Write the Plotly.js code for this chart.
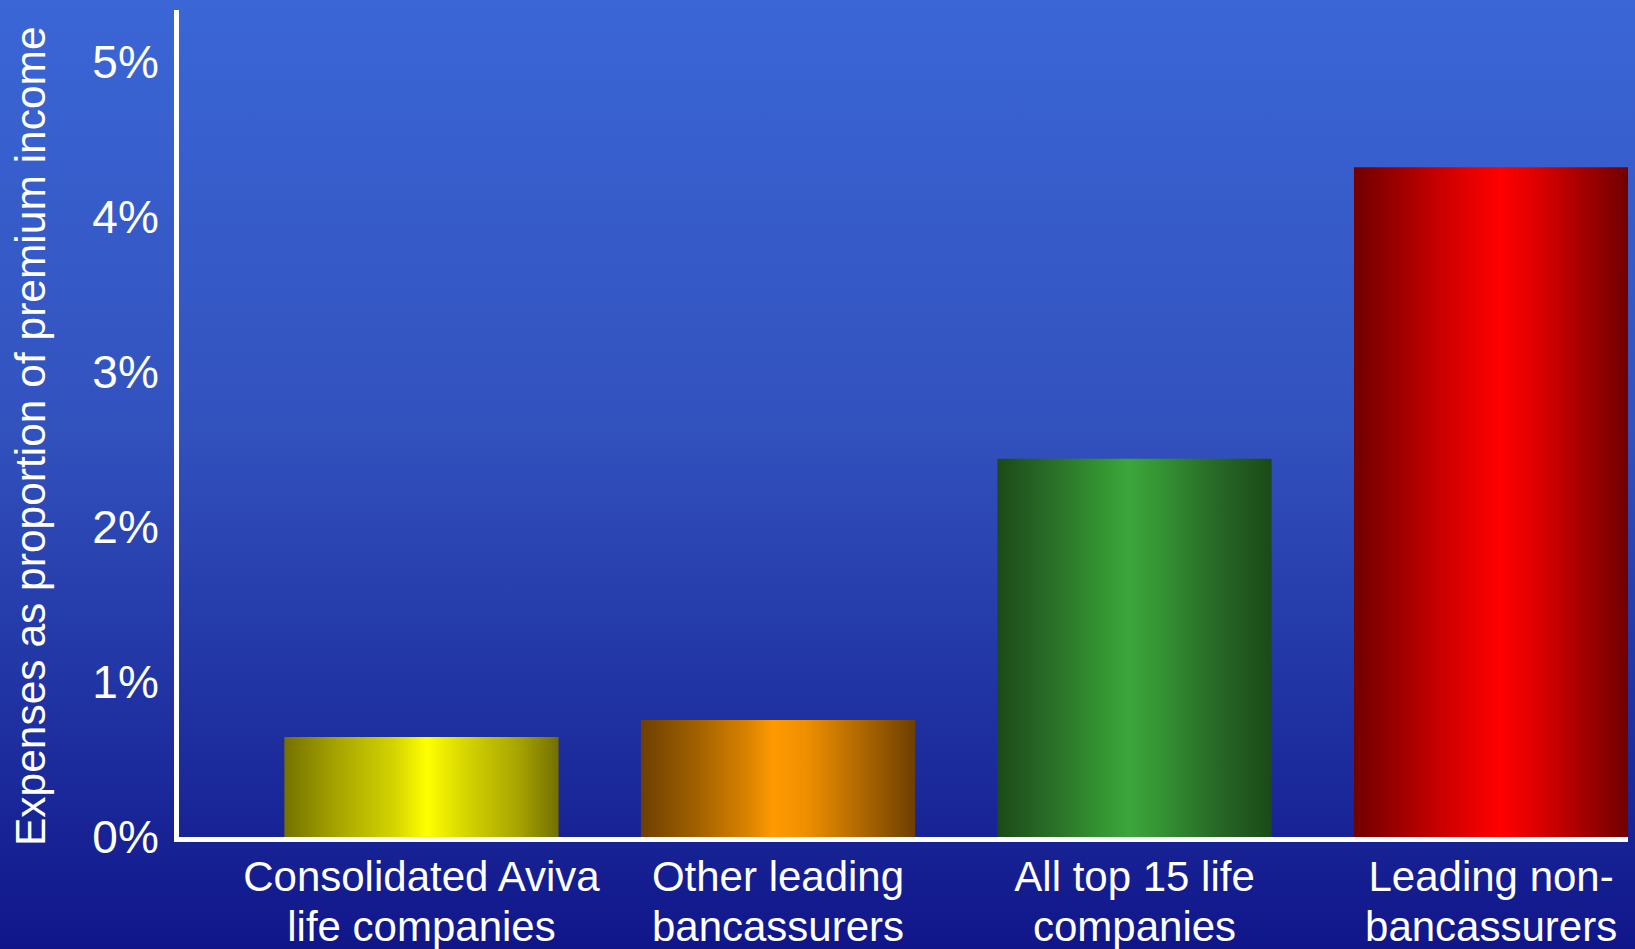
<!DOCTYPE html>
<html>
<head>
<meta charset="utf-8">
<script src="https://cdn.plot.ly/plotly-3.0.1.min.js"></script>
<style>
  html, body { margin: 0; padding: 0; width: 1635px; height: 949px; overflow: hidden; }
  body { background: linear-gradient(to bottom, rgb(59,102,214) 0%, rgb(50,82,190) 45%, rgb(16,22,138) 100%); }
  #chart { width: 1635px; height: 949px; }
</style>
</head>
<body>
<div id="chart"></div>
<script>
// ---- data ----
const categories = [
  "Consolidated Aviva<br>life companies",
  "Other leading<br>bancassurers",
  "All top 15 life<br>companies",
  "Leading non-<br>bancassurers"
];
const expenseRatio = [0.645, 0.755, 2.44, 4.32];   // % of premium income
const tickValues = [0, 1, 2, 3, 4, 5];
const tickLabels = ["0%", "1%", "2%", "3%", "4%", "5%"];
const yTitle = "Expenses as proportion of premium income";

// bar colour ramps (left edge -> highlight -> right edge)
const barGradients = [
  [[0, "#747200"], [0.2, "#A8A600"], [0.4, "#D4D400"], [0.52, "#FFFF00"], [0.65, "#D8D800"], [0.85, "#A8A500"], [1, "#727000"]],
  [[0, "#6E3F00"], [0.2, "#A06000"], [0.4, "#DD8500"], [0.48, "#FF9900"], [0.6, "#F09000"], [0.8, "#B06800"], [1, "#6E3F00"]],
  [[0, "#1B4A18"], [0.2, "#2A6E28"], [0.38, "#349432"], [0.48, "#3CA63C"], [0.6, "#349232"], [0.8, "#276826"], [1, "#1B4A18"]],
  [[0, "#700000"], [0.2, "#A80000"], [0.4, "#E00000"], [0.53, "#FF0000"], [0.66, "#E00000"], [0.85, "#A00000"], [1, "#700000"]]
];
const baseColors = ["#E0E000", "#F09000", "#349432", "#E00000"];

const trace = {
  type: "bar",
  x: categories,
  y: expenseRatio,
  marker: { color: baseColors, line: { width: 0 } },
  hoverinfo: "skip"
};

const layout = {
  width: 1635,
  height: 949,
  margin: { l: 179, r: 7, t: 10, b: 112, pad: 0 },
  paper_bgcolor: "rgba(0,0,0,0)",
  plot_bgcolor: "rgba(0,0,0,0)",
  showlegend: false,
  bargap: 0.231,
  font: { family: "Liberation Sans, Arial, sans-serif", color: "#FFFFFF" },
  xaxis: {
    type: "category",
    range: [-0.68, 3.384],
    showgrid: false,
    zeroline: false,
    showline: true,
    linecolor: "#FFFFFF",
    linewidth: 5,
    ticks: "",
    tickfont: { size: 42, color: "#FFFFFF" },
    ticklabelstandoff: -1
  },
  yaxis: {
    range: [0, 5.335],
    showgrid: false,
    zeroline: false,
    showline: true,
    linecolor: "#FFFFFF",
    linewidth: 5,
    ticks: "",
    tickvals: tickValues,
    ticktext: tickLabels,
    tickfont: { size: 46, color: "#FFFFFF" },
    ticklabelstandoff: 6
  },
  annotations: [{
    text: yTitle,
    xref: "paper", yref: "paper",
    x: -0.1021, y: 0.4849,
    xanchor: "center", yanchor: "middle",
    textangle: -90,
    showarrow: false,
    font: { size: 42.5, color: "#FFFFFF" }
  }]
};

Plotly.newPlot("chart", [trace], layout, { staticPlot: true, displayModeBar: false }).then(function (gd) {
  const NS = "http://www.w3.org/2000/svg";
  const svg = gd.querySelector(".main-svg");
  let defs = svg.querySelector("defs");
  if (!defs) { defs = document.createElementNS(NS, "defs"); svg.insertBefore(defs, svg.firstChild); }
  barGradients.forEach(function (stops, i) {
    const lg = document.createElementNS(NS, "linearGradient");
    lg.setAttribute("id", "barGrad" + i);
    lg.setAttribute("x1", "0"); lg.setAttribute("y1", "0");
    lg.setAttribute("x2", "1"); lg.setAttribute("y2", "0");
    stops.forEach(function (s) {
      const st = document.createElementNS(NS, "stop");
      st.setAttribute("offset", s[0]);
      st.setAttribute("stop-color", s[1]);
      lg.appendChild(st);
    });
    defs.appendChild(lg);
  });
  gd.querySelectorAll(".trace.bars .point path").forEach(function (p, i) {
    p.style.fill = "url(#barGrad" + i + ")";
  });
  // tighter line spacing for the two-line category labels
  gd.querySelectorAll(".xtick text tspan.line").forEach(function (t) {
    if (t.getAttribute("dy") && t.getAttribute("dy") !== "0em") t.setAttribute("dy", "1.17em");
  });
});
</script>
</body>
</html>
